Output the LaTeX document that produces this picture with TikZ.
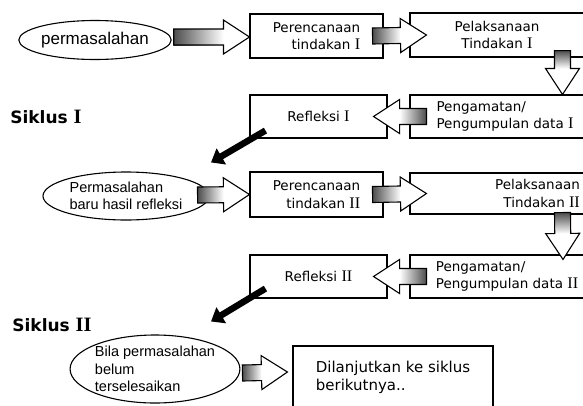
\documentclass[tikz,border=0pt]{standalone}
\usepackage{fontspec}
\setmainfont{DejaVu Sans}
\newfontfamily\arialfont{Liberation Sans}
\newfontfamily\romanfont[Scale=1.2]{Liberation Serif}
\usepackage{tikz}
\usetikzlibrary{
  shapes.geometric,
  arrows.meta,
  calc}

\newcommand{\rI}{{\romanfont I}}
\newcommand{\rII}{{\romanfont II}}

\tikzset{
  kotak/.style={draw, line width=1.1pt, inner sep=0pt, font=\fontsize{13.5}{17.5}\selectfont},
  elips/.style={draw, line width=1.1pt, ellipse, inner sep=0pt, font=\arialfont\fontsize{14.5}{17.5}\selectfont},
  siklus/.style={font=\bfseries\fontsize{17}{20}\selectfont},
  panah/.style={line width=6.5pt, -{Triangle[length=12pt,width=18pt]}},
  badan/.style={draw, line width=1.1pt, line join=miter}
}

% fat block arrow: start, tip, shading of the body
\newcommand{\fatarrow}[3]{%
  \coordinate (fa-s) at #1;
  \coordinate (fa-e) at #2;
  \coordinate (fa-h) at ($(fa-e)!26pt!(fa-s)$);
  \coordinate (fa-1) at ($(fa-s)!8pt!90:(fa-e)$);
  \coordinate (fa-2) at ($(fa-h)!8pt!-90:(fa-s)$);
  \coordinate (fa-3) at ($(fa-h)!17pt!-90:(fa-s)$);
  \coordinate (fa-4) at ($(fa-h)!17pt!90:(fa-s)$);
  \coordinate (fa-5) at ($(fa-h)!8pt!90:(fa-s)$);
  \coordinate (fa-6) at ($(fa-s)!8pt!-90:(fa-e)$);
  \fill[white] (fa-1) -- (fa-2) -- (fa-3) -- (fa-e) -- (fa-4) -- (fa-5) -- (fa-6) -- cycle;
  \shade[#3] (fa-1) -- (fa-2) -- (fa-5) -- (fa-6) -- cycle;
  \draw[badan] (fa-1) -- (fa-2) -- (fa-3) -- (fa-e) -- (fa-4) -- (fa-5) -- (fa-6) -- cycle;
}

\begin{document}
\begin{tikzpicture}[x=1pt,y=-1pt]
  \clip (0,0) rectangle (583,405);
  \fill[white] (0,0) rectangle (583,405);

  % siklus I
  \node[elips, minimum width=146, minimum height=39, font=\arialfont\fontsize{17}{20}\selectfont]
    (masalah1) at (95,40) {permasalahan};
  \node[kotak, minimum width=133, minimum height=44, align=right]
    (rencana1) at (316.5,36) {Perencanaan\\tindakan \rI};
  \node[kotak, minimum width=174, minimum height=44, align=center]
    (laksana1) at (497,35) {Pelaksanaan\\Tindakan \rI};
  \node[kotak, minimum width=190, minimum height=43, align=left]
    (amat1) at (505,116.5) {Pengamatan/\\Pengumpulan data \rI};
  \node[kotak, minimum width=137, minimum height=43]
    (refleksi1) at (318.5,116.5) {Refleksi \rI};
  \node[siklus] (siklus1) at (46,117) {Siklus \textbf{\rI}};

  % siklus II
  \node[elips, minimum width=166, minimum height=48, align=left]
    (masalah2) at (126,196) {Permasalahan\\baru hasil refleksi};
  \node[kotak, minimum width=133, minimum height=45, align=right]
    (rencana2) at (316.5,194.5) {Perencanaan\\tindakan \rII};
  \node[kotak, minimum width=255, minimum height=41, align=right]
    (laksana2) at (537.5,193.5) {Pelaksanaan\\Tindakan \rII};
  \node[kotak, minimum width=194, minimum height=43, align=left]
    (amat2) at (507,276.5) {Pengamatan/\\Pengumpulan data \rII};
  \node[kotak, minimum width=137, minimum height=43]
    (refleksi2) at (318.5,276.5) {Refleksi \rII};
  \node[siklus] (siklus2) at (52,325) {Siklus \textbf{\rII}};

  \node[elips, minimum width=156, minimum height=68, align=left]
    (masalah3) at (155,369) {Bila permasalahan\\belum\\terselesaikan};
  \node[kotak, minimum width=200, minimum height=62, align=left, font=\fontsize{15}{18}\selectfont]
    (lanjut) at (393,377) {Dilanjutkan ke siklus\\berikutnya..};

  \fatarrow{($(masalah1.east)+(2,-3)$)}{($(rencana1.west)+(0,1)$)}{left color=black!70, right color=white}
  \fatarrow{($(rencana1.east)+(-11,0)$)}{($(laksana1.west)+(17,0)$)}{left color=black!70, right color=white}
  \fatarrow{($(laksana1.south)+(65.5,-7)$)}{($(amat1.north)+(57.5,0)$)}{top color=black!70, bottom color=white}
  \fatarrow{($(amat1.west)+(17,0)$)}{($(refleksi1.east)+(-14,0)$)}{right color=black!70, left color=white}
  \draw[panah] ($(refleksi1.south west)+(16,-8)$) -- ($(masalah2.north)+(85,-9)$);

  \fatarrow{($(masalah2.east)+(-12,-1)$)}{(rencana2.west)}{left color=black!70, right color=white}
  \fatarrow{($(rencana2.east)+(-11,0)$)}{($(laksana2.west)+(17,0)$)}{left color=black!70, right color=white}
  \fatarrow{($(laksana2.south)+(25,-2)$)}{($(amat2.north)+(56,5)$)}{top color=black!70, bottom color=white}
  \fatarrow{($(amat2.west)+(17,0)$)}{($(refleksi2.east)+(-14,0)$)}{right color=black!70, left color=white}
  \draw[panah] ($(refleksi2.south west)+(16,-10)$) -- ($(masalah3.north)+(56,-13)$);

  \fatarrow{($(masalah3.east)+(2,4)$)}{($(lanjut.west)+(-5,-5)$)}{left color=black!70, right color=white}
\end{tikzpicture}
\end{document}
